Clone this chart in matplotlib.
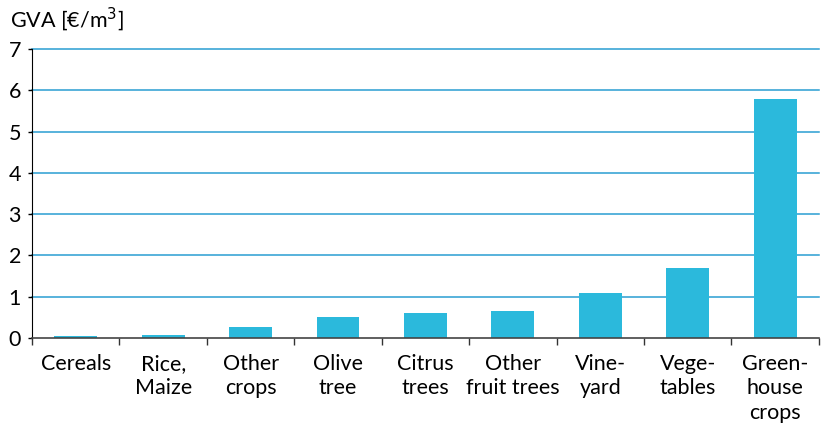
import numpy as np
import matplotlib
matplotlib.use("Agg")
from matplotlib import pyplot as plt

# data
categories = ["Cereals", "Rice,\nMaize", "Other\ncrops", "Olive\ntree", "Citrus\ntrees",
              "Other\nfruit trees", "Vine-\nyard", "Vege-\ntables", "Green-\nhouse\ncrops"]
gva = [0.04, 0.08, 0.27, 0.50, 0.60, 0.65, 1.08, 1.70, 5.80]
y_ticks = [0, 1, 2, 3, 4, 5, 6, 7]

plt.rcParams['font.family'] = ['Lato', 'DejaVu Sans']

fig = plt.figure(figsize=(8.27, 4.24), dpi=100)
ax = fig.add_axes([0.0387, 0.203, 0.9515, 0.6814])

x = np.arange(len(categories))
ax.bar(x, gva, width=0.49, color="#2bb9dc", zorder=3)

ax.set_xlim(-0.5, len(categories) - 0.5)
ax.set_ylim(0, 7)
ax.set_yticks(y_ticks)
ax.set_yticklabels([str(v) for v in y_ticks], fontsize=15.5)
for v in y_ticks[1:]:
    ax.axhline(v, color="#2a9ed2", lw=1.1, zorder=1, clip_on=False)

# category labels at centers, ticks at boundaries
ax.set_xticks(np.arange(len(categories) + 1) - 0.5)
ax.set_xticklabels([])
ax.tick_params(axis="x", length=5, width=1, color="#333333", direction="out")
ax.tick_params(axis="y", length=3, width=1, color="black", pad=5)
for i, lab in enumerate(categories):
    ax.text(i, -0.38, lab, ha="center", va="top", fontsize=15.5, linespacing=1.3)

for s in ["top", "right"]:
    ax.spines[s].set_visible(False)
ax.spines["left"].set_color("black")
ax.spines["bottom"].set_color("#444444")
ax.spines["bottom"].set_linewidth(1.2)
ax.spines["bottom"].set_zorder(4)

fig.text(0.012, 0.936, "GVA [€/m$^3$]", fontsize=15.5, ha="left", va="baseline")

fig.savefig("out.png", dpi=100)
